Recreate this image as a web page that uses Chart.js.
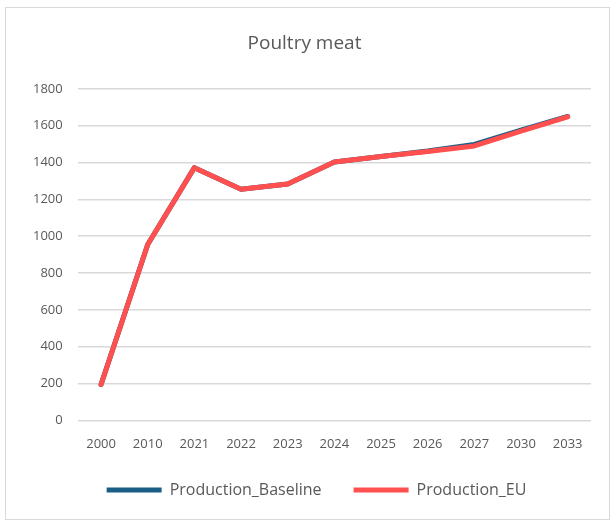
<!DOCTYPE html>
<html>
<head>
<meta charset="utf-8">
<script src="https://cdn.jsdelivr.net/npm/chart.js@4"></script>
<style>
  html, body { margin: 0; padding: 0; background: #fff; }
  #wrap {
    position: absolute; left: 5px; top: 7px; width: 605px; height: 513px;
    border: 1px solid #d9d9d9; box-sizing: border-box;
  }
</style>
</head>
<body>
<div id="wrap"><canvas id="poultryChart"></canvas></div>
<script>
var years = ['2000', '2010', '2021', '2022', '2023', '2024', '2025', '2026', '2027', '2030', '2033'];
var baseline = [195, 955, 1372, 1255, 1283, 1403, 1432, 1462, 1498, 1576, 1650];
var productionEU = [195, 955, 1372, 1255, 1283, 1403, 1432, 1460, 1490, 1570, 1648];
var yTicks = [0, 200, 400, 600, 800, 1000, 1200, 1400, 1600, 1800];

var fontFamily = "'Open Sans', 'Noto Sans', sans-serif";
var legendShift = 12;  // px to the right
var legendTrim = 10;   // legend padding is wide for item spacing; give the height back

// keep wide gaps between legend items without the legend eating into the plot
var legendTweak = {
  id: 'legendTweak',
  beforeLayout: function (chart) {
    var legend = chart.legend;
    if (legend && !legend._trimmed) {
      var fit = legend.fit;
      legend.fit = function () {
        fit.call(this);
        this.height -= legendTrim;
      };
      legend._trimmed = true;
    }
  },
  afterLayout: function (chart) {
    var legend = chart.legend;
    if (legend) {
      legend.left += legendShift;
      legend.right += legendShift;
      legend.top -= legendTrim;
      legend.bottom -= legendTrim;
    }
  }
};

var ctx = document.getElementById('poultryChart').getContext('2d');
var poultryChart = new Chart(ctx, {
  type: 'line',
  data: {
    labels: years,
    datasets: [{
      label: 'Production_Baseline',
      data: baseline,
      borderColor: '#1b5e85',
      backgroundColor: '#1b5e85',
      borderWidth: 5,
      pointRadius: 0,
      borderCapStyle: 'round',
      borderJoinStyle: 'round',
      order: 2
    }, {
      label: 'Production_EU',
      data: productionEU,
      borderColor: '#ff4f4f',
      backgroundColor: '#ff4f4f',
      borderWidth: 5,
      pointRadius: 0,
      borderCapStyle: 'round',
      borderJoinStyle: 'round',
      order: 1
    }]
  },
  options: {
    responsive: true,
    maintainAspectRatio: false,
    animation: false,
    layout: { padding: { left: 12, right: 18, top: 10, bottom: 11 } },
    scales: {
      x: {
        offset: true,
        grid: { display: false },
        border: { display: false },
        ticks: { color: '#595959', font: { family: fontFamily, size: 13 }, padding: 8 }
      },
      y: {
        min: 0,
        max: 1800,
        afterBuildTicks: function (axis) {
          axis.ticks = yTicks.map(function (v) { return { value: v }; });
        },
        grid: { color: '#d9d9d9', lineWidth: 1.5, drawTicks: false },
        border: { display: false },
        ticks: {
          color: '#595959',
          font: { family: fontFamily, size: 13 },
          padding: 15,
          callback: function (value) { return String(value); }
        }
      }
    },
    plugins: {
      title: {
        display: true,
        text: 'Poultry meat',
        color: '#595959',
        font: { family: fontFamily, size: 19, weight: 'normal' },
        padding: { top: 14, bottom: 34 }
      },
      legend: {
        position: 'bottom',
        labels: {
          color: '#595959',
          font: { family: fontFamily, size: 16 },
          usePointStyle: true,
          pointStyle: 'line',
          pointStyleWidth: 55,
          padding: 32,
          sort: function (a, b) { return a.datasetIndex - b.datasetIndex; }
        }
      },
      tooltip: { enabled: false }
    }
  },
  plugins: [legendTweak]
});
</script>
</body>
</html>
